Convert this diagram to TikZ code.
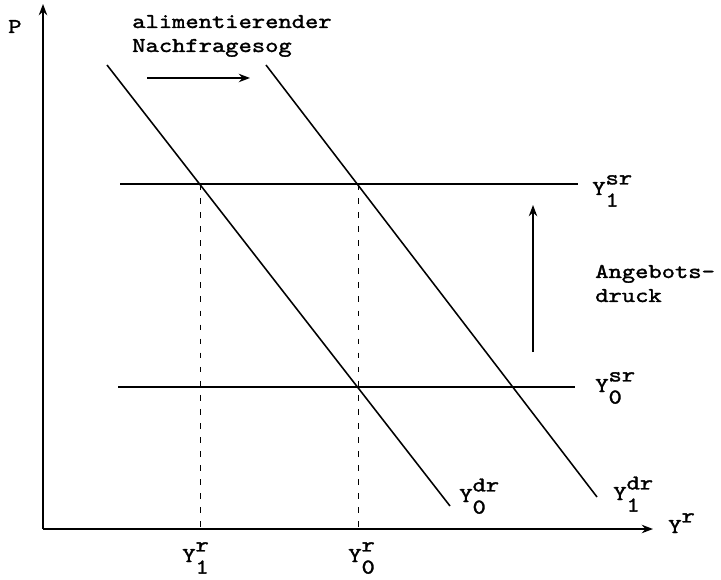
\documentclass[tikz,border=0pt]{standalone}
\usepackage{fontspec}
\usepackage{tikz}
\usetikzlibrary{arrows.meta, positioning}
\newfontfamily\typewriter{lmmono10-regular.otf}[FakeStretch=1.2, FakeBold=1.5]
\newcommand{\ylab}[2]{Y\rlap{\raisebox{-0.55em}{#2}}\raisebox{0.5em}{#1}}

\begin{document}
\begin{tikzpicture}[x=0.025cm, y=0.025cm, font=\typewriter\fontsize{15}{17}\selectfont,
    axis/.style={->,>={Stealth[length=8pt,width=6pt]},line width=1.4pt},
    curve/.style={line width=1.1pt},
    guide/.style={line width=0.6pt,dash pattern=on 4pt off 6pt},
    shiftarrow/.style={->,>={Stealth[length=8pt,width=6pt]},line width=1.1pt},
    lab/.style={anchor=base west,inner sep=0pt}]
    \useasboundingbox (0,0) rectangle (721,579);
    % Achsen
    \coordinate (O) at (43,50);
    \coordinate (ytop) at (43,575);
    \coordinate (xend) at (653,50);
    \draw[axis] (O) -- (ytop);
    \draw[axis] (O) -- (xend);
    \node[lab] (P) at (8,546) {P};
    \node[lab] (Yr) at (668,46) {\ylab{r}{}};
    % Angebot
    \coordinate (s1a) at (120,395); \coordinate (s1b) at (578,395);
    \coordinate (s0a) at (118,192); \coordinate (s0b) at (575,192);
    \draw[curve] (s1a) -- (s1b);
    \draw[curve] (s0a) -- (s0b);
    \node[lab] (Ys1) at (592,384) {\ylab{sr}{1}};
    \node[lab] (Ys0) at (595,187) {\ylab{sr}{0}};
    % Nachfrage
    \coordinate (d0a) at (107,514); \coordinate (d0b) at (450,73);
    \coordinate (d1a) at (266,514); \coordinate (d1b) at (597,82);
    \draw[curve] (d0a) -- (d0b);
    \draw[curve] (d1a) -- (d1b);
    \node[lab] (Yd0) at (459,77) {\ylab{dr}{0}};
    \node[lab] (Yd1) at (613,79) {\ylab{dr}{1}};
    % Gleichgewichte
    \node[lab] (Yr1) at (182,17) {\ylab{r}{1}};
    \node[lab] (Yr0) at (348,17) {\ylab{r}{0}};
    \coordinate (e1) at (200,395);
    \coordinate (e0) at (358,395);
    \draw[guide] (e1) -- (e1 |- O);
    \draw[guide] (e0) -- (e0 |- O);
    % Verschiebungen
    \coordinate (ha) at (147,501); \coordinate (hb) at (250,501);
    \draw[shiftarrow] (ha) -- (hb);
    \node[lab] (sog1) at (132,551) {alimentierender};
    \node[lab] (sog2) at (132,527) {Nachfragesog};
    \coordinate (va) at (533,227); \coordinate (vb) at (533,374);
    \draw[shiftarrow] (va) -- (vb);
    \node[lab] (druck1) at (595,301) {Angebots-};
    \node[lab] (druck2) at (595,277) {druck};
\end{tikzpicture}
\end{document}
